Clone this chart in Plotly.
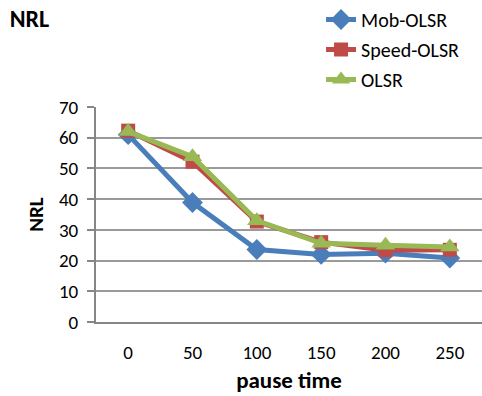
import plotly.graph_objects as go

# Pause time categories and NRL values per protocol
pause_time = ["0", "50", "100", "150", "200", "250"]
mob_olsr = [61, 38.9, 23.6, 22.0, 22.4, 20.8]
speed_olsr = [62.3, 52.2, 32.7, 26.0, 23.4, 23.5]
olsr = [62.0, 53.8, 33.0, 25.6, 25.0, 24.4]
y_ticks = [0, 10, 20, 30, 40, 50, 60, 70]

FONT = "Carlito, Lato, 'Open Sans', sans-serif"
AXIS_GREY = "#868686"

series = [
    ("Mob-OLSR", mob_olsr, "#4a7ebb", "diamond", 16),
    ("Speed-OLSR", speed_olsr, "#be4b48", "square", 14),
    ("OLSR", olsr, "#98b954", "triangle-up", 17),
]

fig = go.Figure()
for name, vals, color, symbol, size in series:
    fig.add_trace(go.Scatter(
        x=pause_time, y=vals, name=name, legendgroup=name,
        mode="lines+markers",
        line=dict(color=color, width=5),
        marker=dict(symbol=symbol, size=size, color=color),
    ))

fig.update_layout(
    width=482, height=396,
    margin=dict(l=96, r=0, t=107, b=74),
    paper_bgcolor="white", plot_bgcolor="white",
    font=dict(family=FONT, size=19, color="black"),
    title=dict(text="<b>NRL</b>", x=0.02, xanchor="left", y=0.953, yanchor="middle",
               font=dict(size=24)),
    legend=dict(x=0.583, xanchor="left", y=1.50, yanchor="top",
                font=dict(size=20), tracegroupgap=1,
                bgcolor="rgba(0,0,0,0)"),
    showlegend=True,
)
fig.update_xaxes(
    type="category", range=[-0.5, 5.5],
    showline=True, linecolor=AXIS_GREY, linewidth=2,
    showgrid=False, ticks="", ticklabelstandoff=12,
    title=dict(text="<b>pause time</b>", font=dict(size=23), standoff=9),
)
fig.update_yaxes(
    range=[0, 70], tickvals=y_ticks,
    showline=True, linecolor=AXIS_GREY, linewidth=2,
    showgrid=True, gridcolor="#9a9a9a", gridwidth=2,
    ticks="outside", ticklen=7, tickcolor=AXIS_GREY, tickwidth=2,
    ticklabelstandoff=5,
    zeroline=False,
    title=dict(text="<b>NRL</b>", font=dict(size=21), standoff=10),
)

fig.write_html("out.html")
